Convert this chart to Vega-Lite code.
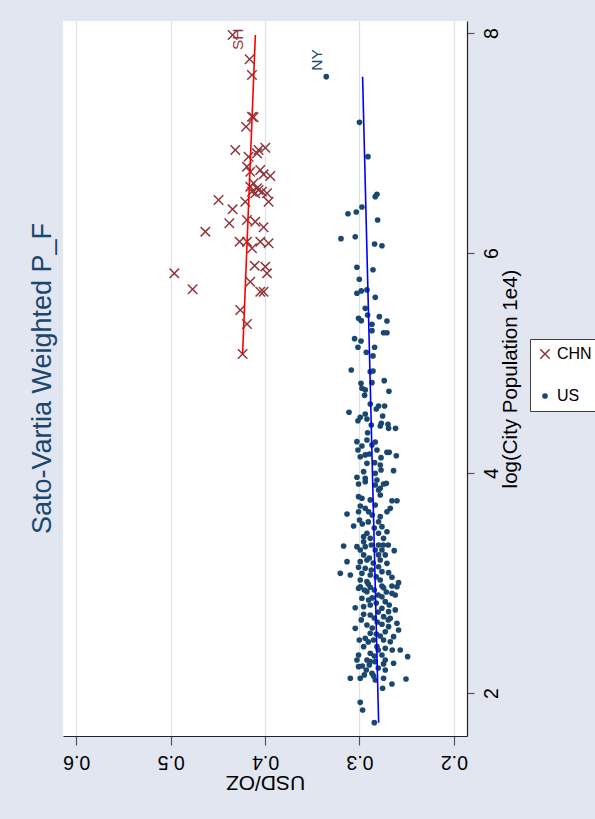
{
  "$schema": "https://vega.github.io/schema/vega-lite/v6.json",
  "width": 404,
  "height": 715,
  "autosize": "none",
  "padding": {"left": 63, "top": 21, "right": 128, "bottom": 83},
  "background": "#E1E6F0",
  "config": {"view": {"fill": "white", "stroke": null}, "font": "Liberation Sans"},
  "title": {"text": "Sato-Vartia Weighted P_F", "orient": "left", "anchor": "middle", "fontSize": 27, "fontWeight": "normal", "font": "Liberation Sans", "color": "#1a476f", "offset": 6},
  "datasets": {
    "cities": [
      {"country": "US", "city": "NY", "usd": 0.3352, "logpop": 7.603},
      {"country": "US", "usd": 0.3000, "logpop": 7.188},
      {"country": "US", "usd": 0.2910, "logpop": 6.876},
      {"country": "US", "usd": 0.2815, "logpop": 6.534},
      {"country": "US", "usd": 0.2833, "logpop": 6.512},
      {"country": "US", "usd": 0.2974, "logpop": 6.418},
      {"country": "US", "usd": 0.3034, "logpop": 6.373},
      {"country": "US", "usd": 0.3122, "logpop": 6.357},
      {"country": "US", "usd": 0.2808, "logpop": 6.300},
      {"country": "US", "usd": 0.3196, "logpop": 6.130},
      {"country": "US", "usd": 0.3045, "logpop": 6.148},
      {"country": "US", "usd": 0.2840, "logpop": 6.082},
      {"country": "US", "usd": 0.2762, "logpop": 6.066},
      {"country": "US", "usd": 0.3027, "logpop": 5.870},
      {"country": "US", "usd": 0.2857, "logpop": 5.848},
      {"country": "US", "usd": 0.3002, "logpop": 5.761},
      {"country": "US", "usd": 0.3027, "logpop": 5.634},
      {"country": "US", "usd": 0.2981, "logpop": 5.655},
      {"country": "US", "usd": 0.2921, "logpop": 5.664},
      {"country": "US", "usd": 0.2833, "logpop": 5.597},
      {"country": "US", "usd": 0.2939, "logpop": 5.497},
      {"country": "US", "usd": 0.2914, "logpop": 5.436},
      {"country": "US", "usd": 0.3010, "logpop": 5.406},
      {"country": "US", "usd": 0.2981, "logpop": 5.385},
      {"country": "US", "usd": 0.2790, "logpop": 5.421},
      {"country": "US", "usd": 0.2709, "logpop": 5.382},
      {"country": "US", "usd": 0.2868, "logpop": 5.352},
      {"country": "US", "usd": 0.2868, "logpop": 5.294},
      {"country": "US", "usd": 0.2745, "logpop": 5.275},
      {"country": "US", "usd": 0.2709, "logpop": 5.275},
      {"country": "US", "usd": 0.3052, "logpop": 5.221},
      {"country": "US", "usd": 0.2984, "logpop": 5.200},
      {"country": "US", "usd": 0.3016, "logpop": 5.143},
      {"country": "US", "usd": 0.2840, "logpop": 5.143},
      {"country": "US", "usd": 0.2928, "logpop": 5.097},
      {"country": "US", "usd": 0.2857, "logpop": 5.064},
      {"country": "US", "usd": 0.3087, "logpop": 4.936},
      {"country": "US", "usd": 0.2886, "logpop": 4.921},
      {"country": "US", "usd": 0.2857, "logpop": 4.927},
      {"country": "US", "usd": 0.2868, "logpop": 4.821},
      {"country": "US", "usd": 0.2738, "logpop": 4.839},
      {"country": "US", "usd": 0.2984, "logpop": 4.815},
      {"country": "US", "usd": 0.2974, "logpop": 4.770},
      {"country": "US", "usd": 0.2939, "logpop": 4.755},
      {"country": "US", "usd": 0.2946, "logpop": 4.706},
      {"country": "US", "usd": 0.2688, "logpop": 4.743},
      {"country": "US", "usd": 0.2886, "logpop": 4.627},
      {"country": "US", "usd": 0.2798, "logpop": 4.609},
      {"country": "US", "usd": 0.2734, "logpop": 4.609},
      {"country": "US", "usd": 0.2822, "logpop": 4.582},
      {"country": "US", "usd": 0.3111, "logpop": 4.552},
      {"country": "US", "usd": 0.2939, "logpop": 4.536},
      {"country": "US", "usd": 0.2992, "logpop": 4.506},
      {"country": "US", "usd": 0.3016, "logpop": 4.475},
      {"country": "US", "usd": 0.2921, "logpop": 4.491},
      {"country": "US", "usd": 0.2755, "logpop": 4.518},
      {"country": "US", "usd": 0.2875, "logpop": 4.436},
      {"country": "US", "usd": 0.2769, "logpop": 4.452},
      {"country": "US", "usd": 0.2780, "logpop": 4.427},
      {"country": "US", "usd": 0.2698, "logpop": 4.443},
      {"country": "US", "usd": 0.2692, "logpop": 4.406},
      {"country": "US", "usd": 0.2618, "logpop": 4.406},
      {"country": "US", "usd": 0.2914, "logpop": 4.366},
      {"country": "US", "usd": 0.3027, "logpop": 4.285},
      {"country": "US", "usd": 0.2921, "logpop": 4.300},
      {"country": "US", "usd": 0.2833, "logpop": 4.282},
      {"country": "US", "usd": 0.2868, "logpop": 4.255},
      {"country": "US", "usd": 0.2974, "logpop": 4.245},
      {"country": "US", "usd": 0.3016, "logpop": 4.209},
      {"country": "US", "usd": 0.2815, "logpop": 4.209},
      {"country": "US", "usd": 0.2709, "logpop": 4.188},
      {"country": "US", "usd": 0.2685, "logpop": 4.188},
      {"country": "US", "usd": 0.2610, "logpop": 4.157},
      {"country": "US", "usd": 0.2992, "logpop": 4.148},
      {"country": "US", "usd": 0.2939, "logpop": 4.164},
      {"country": "US", "usd": 0.2896, "logpop": 4.173},
      {"country": "US", "usd": 0.2772, "logpop": 4.139},
      {"country": "US", "usd": 0.2921, "logpop": 4.088},
      {"country": "US", "usd": 0.2840, "logpop": 4.094},
      {"country": "US", "usd": 0.2780, "logpop": 4.073},
      {"country": "US", "usd": 0.2772, "logpop": 4.027},
      {"country": "US", "usd": 0.2639, "logpop": 4.021},
      {"country": "US", "usd": 0.2956, "logpop": 4.012},
      {"country": "US", "usd": 0.2833, "logpop": 3.997},
      {"country": "US", "usd": 0.3027, "logpop": 3.961},
      {"country": "US", "usd": 0.2939, "logpop": 3.952},
      {"country": "US", "usd": 0.2815, "logpop": 3.936},
      {"country": "US", "usd": 0.3010, "logpop": 3.900},
      {"country": "US", "usd": 0.2833, "logpop": 3.891},
      {"country": "US", "usd": 0.2716, "logpop": 3.906},
      {"country": "US", "usd": 0.2780, "logpop": 3.861},
      {"country": "US", "usd": 0.2939, "logpop": 3.921},
      {"country": "US", "usd": 0.2745, "logpop": 3.900},
      {"country": "US", "usd": 0.2798, "logpop": 3.845},
      {"country": "US", "usd": 0.3010, "logpop": 3.785},
      {"country": "US", "usd": 0.2974, "logpop": 3.770},
      {"country": "US", "usd": 0.2780, "logpop": 3.800},
      {"country": "US", "usd": 0.2656, "logpop": 3.748},
      {"country": "US", "usd": 0.2603, "logpop": 3.748},
      {"country": "US", "usd": 0.2992, "logpop": 3.700},
      {"country": "US", "usd": 0.2939, "logpop": 3.679},
      {"country": "US", "usd": 0.2903, "logpop": 3.648},
      {"country": "US", "usd": 0.2674, "logpop": 3.679},
      {"country": "US", "usd": 0.2709, "logpop": 3.648},
      {"country": "US", "usd": 0.3132, "logpop": 3.627},
      {"country": "US", "usd": 0.3010, "logpop": 3.648},
      {"country": "US", "usd": 0.2780, "logpop": 3.603},
      {"country": "US", "usd": 0.2798, "logpop": 3.557},
      {"country": "US", "usd": 0.3000, "logpop": 3.573},
      {"country": "US", "usd": 0.3062, "logpop": 3.518},
      {"country": "US", "usd": 0.2762, "logpop": 3.512},
      {"country": "US", "usd": 0.2921, "logpop": 3.452},
      {"country": "US", "usd": 0.2956, "logpop": 3.421},
      {"country": "US", "usd": 0.2709, "logpop": 3.466},
      {"country": "US", "usd": 0.2798, "logpop": 3.452},
      {"country": "US", "usd": 0.2886, "logpop": 3.406},
      {"country": "US", "usd": 0.2745, "logpop": 3.406},
      {"country": "US", "usd": 0.2956, "logpop": 3.375},
      {"country": "US", "usd": 0.3168, "logpop": 3.336},
      {"country": "US", "usd": 0.3027, "logpop": 3.330},
      {"country": "US", "usd": 0.2992, "logpop": 3.300},
      {"country": "US", "usd": 0.2939, "logpop": 3.330},
      {"country": "US", "usd": 0.2798, "logpop": 3.345},
      {"country": "US", "usd": 0.2762, "logpop": 3.300},
      {"country": "US", "usd": 0.2632, "logpop": 3.294},
      {"country": "US", "usd": 0.2956, "logpop": 3.255},
      {"country": "US", "usd": 0.2798, "logpop": 3.255},
      {"country": "US", "usd": 0.2727, "logpop": 3.255},
      {"country": "US", "usd": 0.3132, "logpop": 3.194},
      {"country": "US", "usd": 0.2992, "logpop": 3.194},
      {"country": "US", "usd": 0.2921, "logpop": 3.209},
      {"country": "US", "usd": 0.2780, "logpop": 3.209},
      {"country": "US", "usd": 0.2709, "logpop": 3.179},
      {"country": "US", "usd": 0.3010, "logpop": 3.143},
      {"country": "US", "usd": 0.2939, "logpop": 3.134},
      {"country": "US", "usd": 0.2798, "logpop": 3.148},
      {"country": "US", "usd": 0.3203, "logpop": 3.088},
      {"country": "US", "usd": 0.3097, "logpop": 3.073},
      {"country": "US", "usd": 0.2974, "logpop": 3.088},
      {"country": "US", "usd": 0.2886, "logpop": 3.073},
      {"country": "US", "usd": 0.2762, "logpop": 3.103},
      {"country": "US", "usd": 0.2692, "logpop": 3.094},
      {"country": "US", "usd": 0.2656, "logpop": 3.052},
      {"country": "US", "usd": 0.2992, "logpop": 3.027},
      {"country": "US", "usd": 0.2921, "logpop": 3.012},
      {"country": "US", "usd": 0.2780, "logpop": 3.027},
      {"country": "US", "usd": 0.2586, "logpop": 3.003},
      {"country": "US", "usd": 0.2656, "logpop": 2.973},
      {"country": "US", "usd": 0.2992, "logpop": 2.966},
      {"country": "US", "usd": 0.2762, "logpop": 2.973},
      {"country": "US", "usd": 0.2886, "logpop": 2.961},
      {"country": "US", "usd": 0.3010, "logpop": 2.952},
      {"country": "US", "usd": 0.2921, "logpop": 2.921},
      {"country": "US", "usd": 0.2745, "logpop": 2.957},
      {"country": "US", "usd": 0.2603, "logpop": 2.966},
      {"country": "US", "usd": 0.2656, "logpop": 2.906},
      {"country": "US", "usd": 0.2762, "logpop": 2.875},
      {"country": "US", "usd": 0.2621, "logpop": 2.891},
      {"country": "US", "usd": 0.2974, "logpop": 2.861},
      {"country": "US", "usd": 0.2903, "logpop": 2.845},
      {"country": "US", "usd": 0.2727, "logpop": 2.830},
      {"country": "US", "usd": 0.3045, "logpop": 2.775},
      {"country": "US", "usd": 0.2956, "logpop": 2.785},
      {"country": "US", "usd": 0.2886, "logpop": 2.800},
      {"country": "US", "usd": 0.2762, "logpop": 2.770},
      {"country": "US", "usd": 0.2621, "logpop": 2.755},
      {"country": "US", "usd": 0.2692, "logpop": 2.739},
      {"country": "US", "usd": 0.2956, "logpop": 2.715},
      {"country": "US", "usd": 0.2886, "logpop": 2.709},
      {"country": "US", "usd": 0.2745, "logpop": 2.694},
      {"country": "US", "usd": 0.2674, "logpop": 2.679},
      {"country": "US", "usd": 0.2603, "logpop": 2.634},
      {"country": "US", "usd": 0.3045, "logpop": 2.588},
      {"country": "US", "usd": 0.2921, "logpop": 2.618},
      {"country": "US", "usd": 0.2762, "logpop": 2.625},
      {"country": "US", "usd": 0.2692, "logpop": 2.603},
      {"country": "US", "usd": 0.2586, "logpop": 2.573},
      {"country": "US", "usd": 0.2886, "logpop": 2.543},
      {"country": "US", "usd": 0.2727, "logpop": 2.557},
      {"country": "US", "usd": 0.2639, "logpop": 2.512},
      {"country": "US", "usd": 0.2939, "logpop": 2.497},
      {"country": "US", "usd": 0.2851, "logpop": 2.482},
      {"country": "US", "usd": 0.2745, "logpop": 2.482},
      {"country": "US", "usd": 0.2674, "logpop": 2.466},
      {"country": "US", "usd": 0.2956, "logpop": 2.421},
      {"country": "US", "usd": 0.2815, "logpop": 2.421},
      {"country": "US", "usd": 0.2727, "logpop": 2.406},
      {"country": "US", "usd": 0.2568, "logpop": 2.391},
      {"country": "US", "usd": 0.3010, "logpop": 2.345},
      {"country": "US", "usd": 0.2886, "logpop": 2.361},
      {"country": "US", "usd": 0.2762, "logpop": 2.345},
      {"country": "US", "usd": 0.3027, "logpop": 2.300},
      {"country": "US", "usd": 0.2921, "logpop": 2.300},
      {"country": "US", "usd": 0.2833, "logpop": 2.285},
      {"country": "US", "usd": 0.2727, "logpop": 2.300},
      {"country": "US", "usd": 0.2639, "logpop": 2.270},
      {"country": "US", "usd": 0.2490, "logpop": 2.330},
      {"country": "US", "usd": 0.3010, "logpop": 2.239},
      {"country": "US", "usd": 0.2886, "logpop": 2.285},
      {"country": "US", "usd": 0.2745, "logpop": 2.264},
      {"country": "US", "usd": 0.3097, "logpop": 2.134},
      {"country": "US", "usd": 0.2992, "logpop": 2.134},
      {"country": "US", "usd": 0.2949, "logpop": 2.164},
      {"country": "US", "usd": 0.2868, "logpop": 2.179},
      {"country": "US", "usd": 0.2851, "logpop": 2.155},
      {"country": "US", "usd": 0.2745, "logpop": 2.134},
      {"country": "US", "usd": 0.2656, "logpop": 2.082},
      {"country": "US", "usd": 0.2755, "logpop": 2.043},
      {"country": "US", "usd": 0.2507, "logpop": 2.127},
      {"country": "US", "usd": 0.2992, "logpop": 1.915},
      {"country": "US", "usd": 0.2967, "logpop": 1.845},
      {"country": "US", "usd": 0.2843, "logpop": 1.730},
      {"country": "US", "usd": 0.2886, "logpop": 3.755},
      {"country": "US", "usd": 0.2833, "logpop": 3.709},
      {"country": "US", "usd": 0.2865, "logpop": 3.618},
      {"country": "US", "usd": 0.2907, "logpop": 3.555},
      {"country": "US", "usd": 0.2843, "logpop": 3.500},
      {"country": "US", "usd": 0.2875, "logpop": 3.345},
      {"country": "US", "usd": 0.2833, "logpop": 3.300},
      {"country": "US", "usd": 0.2896, "logpop": 3.227},
      {"country": "US", "usd": 0.2854, "logpop": 3.182},
      {"country": "US", "usd": 0.2875, "logpop": 3.118},
      {"country": "US", "usd": 0.2822, "logpop": 3.055},
      {"country": "US", "usd": 0.2907, "logpop": 2.991},
      {"country": "US", "usd": 0.2843, "logpop": 2.936},
      {"country": "US", "usd": 0.2801, "logpop": 2.891},
      {"country": "US", "usd": 0.2865, "logpop": 2.864},
      {"country": "US", "usd": 0.2822, "logpop": 2.818},
      {"country": "US", "usd": 0.2801, "logpop": 2.736},
      {"country": "US", "usd": 0.2843, "logpop": 2.682},
      {"country": "US", "usd": 0.2812, "logpop": 2.645},
      {"country": "US", "usd": 0.2865, "logpop": 2.591},
      {"country": "US", "usd": 0.2822, "logpop": 2.536},
      {"country": "US", "usd": 0.2780, "logpop": 2.518},
      {"country": "US", "usd": 0.2907, "logpop": 2.464},
      {"country": "US", "usd": 0.2801, "logpop": 2.391},
      {"country": "US", "usd": 0.2843, "logpop": 2.336},
      {"country": "US", "usd": 0.2896, "logpop": 2.255},
      {"country": "US", "usd": 0.2801, "logpop": 2.227},
      {"country": "US", "usd": 0.2928, "logpop": 2.209},
      {"country": "US", "usd": 0.2727, "logpop": 2.209},
      {"country": "US", "usd": 0.2833, "logpop": 2.118},
      {"country": "US", "usd": 0.2970, "logpop": 3.536},
      {"country": "US", "usd": 0.2748, "logpop": 3.345},
      {"country": "US", "usd": 0.2695, "logpop": 3.345},
      {"country": "US", "usd": 0.2949, "logpop": 2.936},
      {"country": "US", "usd": 0.2716, "logpop": 2.918},
      {"country": "US", "usd": 0.2685, "logpop": 2.800},
      {"country": "US", "usd": 0.2981, "logpop": 2.664},
      {"country": "US", "usd": 0.2695, "logpop": 2.664},
      {"country": "US", "usd": 0.3002, "logpop": 2.482},
      {"country": "US", "usd": 0.2653, "logpop": 2.391},
      {"country": "US", "usd": 0.2970, "logpop": 2.245},
      {"country": "CHN", "city": "SH", "usd": 0.4344, "logpop": 7.982},
      {"country": "CHN", "usd": 0.4164, "logpop": 7.761},
      {"country": "CHN", "usd": 0.4139, "logpop": 7.618},
      {"country": "CHN", "usd": 0.4139, "logpop": 7.239},
      {"country": "CHN", "usd": 0.4122, "logpop": 7.234},
      {"country": "CHN", "usd": 0.4202, "logpop": 7.148},
      {"country": "CHN", "usd": 0.4316, "logpop": 6.936},
      {"country": "CHN", "usd": 0.4175, "logpop": 6.875},
      {"country": "CHN", "usd": 0.4069, "logpop": 6.936},
      {"country": "CHN", "usd": 0.3998, "logpop": 6.957},
      {"country": "CHN", "usd": 0.4086, "logpop": 6.906},
      {"country": "CHN", "usd": 0.4192, "logpop": 6.785},
      {"country": "CHN", "usd": 0.4157, "logpop": 6.739},
      {"country": "CHN", "usd": 0.4051, "logpop": 6.755},
      {"country": "CHN", "usd": 0.4016, "logpop": 6.715},
      {"country": "CHN", "usd": 0.3945, "logpop": 6.700},
      {"country": "CHN", "usd": 0.4122, "logpop": 6.634},
      {"country": "CHN", "usd": 0.4157, "logpop": 6.603},
      {"country": "CHN", "usd": 0.4086, "logpop": 6.588},
      {"country": "CHN", "usd": 0.4139, "logpop": 6.557},
      {"country": "CHN", "usd": 0.4104, "logpop": 6.543},
      {"country": "CHN", "usd": 0.4033, "logpop": 6.557},
      {"country": "CHN", "usd": 0.4069, "logpop": 6.573},
      {"country": "CHN", "usd": 0.3980, "logpop": 6.543},
      {"country": "CHN", "usd": 0.3963, "logpop": 6.466},
      {"country": "CHN", "usd": 0.4493, "logpop": 6.482},
      {"country": "CHN", "usd": 0.4344, "logpop": 6.397},
      {"country": "CHN", "usd": 0.4210, "logpop": 6.466},
      {"country": "CHN", "usd": 0.4192, "logpop": 6.300},
      {"country": "CHN", "usd": 0.4633, "logpop": 6.194},
      {"country": "CHN", "usd": 0.4379, "logpop": 6.270},
      {"country": "CHN", "usd": 0.4104, "logpop": 6.285},
      {"country": "CHN", "usd": 0.4016, "logpop": 6.234},
      {"country": "CHN", "usd": 0.4270, "logpop": 6.103},
      {"country": "CHN", "usd": 0.4192, "logpop": 6.103},
      {"country": "CHN", "usd": 0.4139, "logpop": 6.043},
      {"country": "CHN", "usd": 0.4051, "logpop": 6.103},
      {"country": "CHN", "usd": 0.3963, "logpop": 6.088},
      {"country": "CHN", "usd": 0.4111, "logpop": 5.885},
      {"country": "CHN", "usd": 0.3998, "logpop": 5.876},
      {"country": "CHN", "usd": 0.3980, "logpop": 5.815},
      {"country": "CHN", "usd": 0.4157, "logpop": 5.739},
      {"country": "CHN", "usd": 0.4051, "logpop": 5.648},
      {"country": "CHN", "usd": 0.4016, "logpop": 5.648},
      {"country": "CHN", "usd": 0.4962, "logpop": 5.815},
      {"country": "CHN", "usd": 0.4768, "logpop": 5.670},
      {"country": "CHN", "usd": 0.4263, "logpop": 5.482},
      {"country": "CHN", "usd": 0.4192, "logpop": 5.355},
      {"country": "CHN", "usd": 0.4238, "logpop": 5.082}
    ],
    "fits": [
      {"country": "US", "usd": 0.2797, "logpop": 1.730},
      {"country": "US", "usd": 0.2967, "logpop": 7.603},
      {"country": "CHN", "usd": 0.4238, "logpop": 5.082},
      {"country": "CHN", "usd": 0.4103, "logpop": 7.982}
    ]
  },
  "encoding": {
    "x": {
      "field": "usd", "type": "quantitative",
      "scale": {"domain": [0.1861, 0.6141], "reverse": true, "nice": false, "zero": false},
      "axis": {
        "orient": "bottom", "values": [0.2, 0.3, 0.4, 0.5, 0.6], "format": ".1f",
        "title": "USD/OZ", "grid": true, "gridColor": "#DCE2EC", "gridWidth": 1.2,
        "domainColor": "#222222", "domainWidth": 1.2, "tickColor": "#555555", "tickSize": 9, "tickWidth": 1.2,
        "labelAngle": 180, "labelAlign": "center", "labelBaseline": "bottom", "labelPadding": 6,
        "labelFontSize": 19.5, "labelFont": "Liberation Sans", "labelColor": "#000000", "labelFlush": false, "labelOverlap": false,
        "titleAngle": 180, "titleBaseline": "bottom", "titlePadding": 0, "titleFontSize": 21, "titleFont": "Liberation Sans", "titleFontWeight": "normal", "titleColor": "#000000"
      }
    },
    "y": {
      "field": "logpop", "type": "quantitative",
      "scale": {"domain": [1.609, 8.109], "nice": false, "zero": false},
      "axis": {
        "orient": "right", "values": [2, 4, 6, 8], "format": "d",
        "title": "log(City Population 1e4)", "grid": false,
        "domainColor": "#222222", "domainWidth": 1.2, "tickColor": "#555555", "tickSize": 7, "tickWidth": 1.2,
        "labelAngle": 270, "labelAlign": "center", "labelBaseline": "top", "labelPadding": 8,
        "labelFontSize": 19.5, "labelFont": "Liberation Sans", "labelColor": "#000000", "labelFlush": false, "labelOverlap": false,
        "titleAngle": 270, "titleBaseline": "top", "titlePadding": 0, "titleFontSize": 20.5, "titleFont": "Liberation Sans", "titleFontWeight": "normal", "titleColor": "#000000"
      }
    }
  },
  "layer": [
    {
      "data": {"name": "cities"},
      "mark": {"type": "point", "filled": true, "opacity": 1, "strokeWidth": 0},
      "encoding": {
        "color": {
          "field": "country", "type": "nominal",
          "scale": {"domain": ["CHN", "US"], "range": ["#90353b", "#1a476f"]},
          "legend": {"title": null, "orient": "none", "legendX": 467, "legendY": 318, "direction": "vertical", "fillColor": "white", "strokeColor": "#404040", "padding": 7, "labelFontSize": 16, "labelFont": "Liberation Sans", "labelColor": "#000000", "labelOffset": 4, "rowPadding": 26}
        },
        "shape": {
          "field": "country", "type": "nominal",
          "scale": {"domain": ["CHN", "US"], "range": ["M-1,-0.8L-0.8,-1L0,-0.2L0.8,-1L1,-0.8L0.2,0L1,0.8L0.8,1L0,0.2L-0.8,1L-1,0.8L-0.2,0Z", "circle"]},
          "legend": {"title": null, "orient": "none", "legendX": 467, "legendY": 318, "direction": "vertical", "fillColor": "white", "strokeColor": "#404040", "padding": 7, "labelFontSize": 16, "labelFont": "Liberation Sans", "labelColor": "#000000", "labelOffset": 4, "rowPadding": 26}
        },
        "size": {
          "field": "country", "type": "nominal",
          "scale": {"domain": ["CHN", "US"], "range": [110, 32]},
          "legend": {"title": null, "orient": "none", "legendX": 467, "legendY": 318, "direction": "vertical", "fillColor": "white", "strokeColor": "#404040", "padding": 7, "labelFontSize": 16, "labelFont": "Liberation Sans", "labelColor": "#000000", "labelOffset": 4, "rowPadding": 26}
        }
      }
    },
    {
      "data": {"name": "fits"},
      "transform": [{"filter": "datum.country === 'US'"}],
      "mark": {"type": "line", "color": "#0000ff", "strokeWidth": 1.6},
      "encoding": {"order": {"field": "logpop", "type": "quantitative"}}
    },
    {
      "data": {"name": "fits"},
      "transform": [{"filter": "datum.country === 'CHN'"}],
      "mark": {"type": "line", "color": "#ff0000", "strokeWidth": 1.6},
      "encoding": {"order": {"field": "logpop", "type": "quantitative"}}
    },
    {
      "data": {"name": "cities"},
      "transform": [{"filter": "datum.city === 'NY'"}],
      "mark": {"type": "text", "angle": 270, "align": "left", "baseline": "alphabetic", "dx": 6, "dy": -4, "fontSize": 15.5, "font": "Liberation Sans", "color": "#1a476f"},
      "encoding": {"text": {"field": "city", "type": "nominal"}}
    },
    {
      "data": {"name": "cities"},
      "transform": [{"filter": "datum.city === 'SH'"}],
      "mark": {"type": "text", "angle": 270, "align": "left", "baseline": "alphabetic", "dx": -15, "dy": 10.5, "fontSize": 15.5, "font": "Liberation Sans", "color": "#90353b"},
      "encoding": {"text": {"field": "city", "type": "nominal"}}
    }
  ]
}
